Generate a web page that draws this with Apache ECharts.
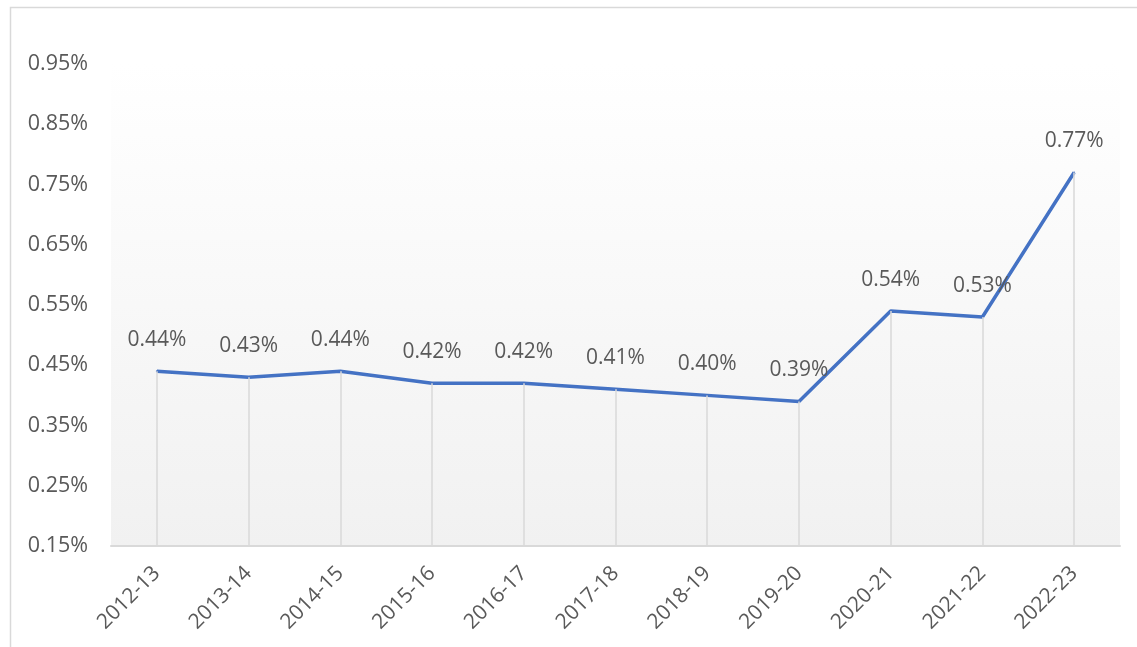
<!DOCTYPE html>
<html>
<head>
<meta charset="utf-8">
<script src="https://cdn.jsdelivr.net/npm/echarts@6/dist/echarts.min.js"></script>
<style>
	html, body { margin: 0; padding: 0; background: #fff; }
	#main { width: 1137px; height: 647px; }
</style>
</head>
<body>
<div id="main"></div>
<script>
	// 年度
	var years = ['2012-13', '2013-14', '2014-15', '2015-16', '2016-17', '2017-18', '2018-19', '2019-20', '2020-21', '2021-22', '2022-23'];
	// 百分比值
	var rates = [0.44, 0.43, 0.44, 0.42, 0.42, 0.41, 0.40, 0.39, 0.54, 0.53, 0.77];
	var yMin = 0.15, yMax = 0.95, yStep = 0.1;

	var textColor = '#595959';
	var font = '"Open Sans", "DejaVu Sans", sans-serif';

	// 竖直引线
	var dropLines = [];
	for(var i = 0; i < years.length; i++) {
		dropLines.push([{ coord: [i, rates[i]] }, { coord: [i, yMin] }]);
	}

	var chart = echarts.init(document.getElementById('main'));
	chart.setOption({
		backgroundColor: '#fff',
		animation: false,
		graphic: [{
			type: 'rect',
			left: 8,
			top: 5,
			shape: { width: 1140, height: 660 },
			style: { fill: 'none', stroke: '#d9d9d9', lineWidth: 1.5 },
			silent: true
		}],
		grid: {
			left: 111,
			right: 17,
			top: 64,
			bottom: 101,
			show: true,
			borderWidth: 0,
			backgroundColor: {
				type: 'linear', x: 0, y: 0, x2: 0, y2: 1,
				colorStops: [{ offset: 0, color: '#ffffff' }, { offset: 1, color: '#f1f1f1' }]
			}
		},
		xAxis: {
			type: 'category',
			data: years,
			boundaryGap: true,
			axisLine: { lineStyle: { color: '#d9d9d9', width: 2 } },
			axisTick: { show: false },
			axisLabel: {
				rotate: 45,
				margin: 24,
				interval: 0,
				color: textColor,
				fontSize: 21,
				fontFamily: font
			}
		},
		yAxis: {
			type: 'value',
			min: yMin,
			max: yMax,
			interval: yStep,
			splitLine: { show: false },
			axisLine: { show: false },
			axisTick: { show: false },
			axisLabel: {
				margin: 23,
				color: textColor,
				fontSize: 21.5,
				fontFamily: font,
				formatter: function(v) { return v.toFixed(2) + '%'; }
			}
		},
		series: [{
			type: 'line',
			data: rates,
			symbol: 'circle',
			symbolSize: 2,
			showSymbol: true,
			showAllSymbol: true,
			itemStyle: { color: '#4472c4' },
			lineStyle: { color: '#4472c4', width: 3.5 },
			label: {
				show: true,
				position: 'top',
				distance: 20,
				color: textColor,
				fontSize: 21,
				fontFamily: font,
				formatter: function(p) { return p.value.toFixed(2) + '%'; }
			},
			labelLayout: { hideOverlap: false },
			markLine: {
				silent: true,
				symbol: ['none', 'none'],
				label: { show: false },
				lineStyle: { color: '#d9d9d9', width: 1.5, type: 'solid' },
				data: dropLines
			},
			z: 3
		}]
	});
</script>
</body>
</html>
